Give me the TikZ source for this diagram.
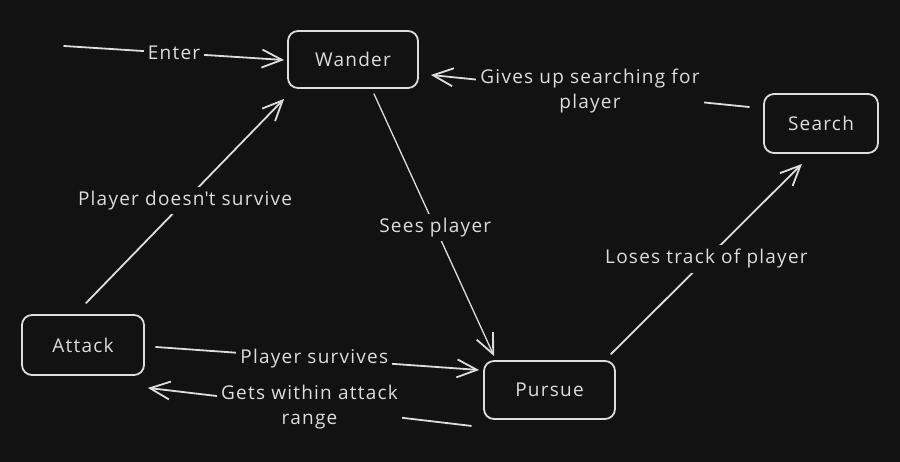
\documentclass[tikz,border=0pt]{standalone}
\usepackage{fontspec}
\setmainfont{Open Sans}[LetterSpace=6.5]
\usetikzlibrary{arrows.meta,calc}
\definecolor{bg}{HTML}{121212}
\definecolor{ink}{HTML}{DDDDDD}
\begin{document}
\begin{tikzpicture}[x=1pt,y=-1pt,
  state/.style={draw=ink, line width=1.8pt, rounded corners=10pt, text=ink,
    font=\fontsize{19}{22}\selectfont, inner sep=0pt},
  lbl/.style={fill=bg, text=ink, font=\fontsize{19}{25}\selectfont, inner sep=4pt, align=center},
  conn/.style={draw=ink, line width=1.8pt, line cap=round,
    -{Straight Barb[length=20pt,width=18pt,line width=1.8pt]}}]
\fill[bg] (0,0) rectangle (900,462);
\useasboundingbox (0,0) rectangle (900,462);

\node[state, minimum width=130pt, minimum height=57pt] (wander) at (353,59.5) {Wander};
\node[state, minimum width=114pt, minimum height=59pt] (search) at (821,123.5) {Search};
\node[state, minimum width=122pt, minimum height=60pt] (attack) at (83,345) {Attack};
\node[state, minimum width=131pt, minimum height=58pt] (pursue) at (549.5,390) {Pursue};

\coordinate (enterstart) at (64,46);

\draw[conn] (enterstart) -- ($(wander.west)+(-3,0.5)$) node[lbl, pos=0.5] {Enter};
\draw[conn, line width=1.3pt] ($(wander.south)+(21,5)$) -- ($(pursue.north west)+(11,-4)$) node[lbl, pos=0.51] {Sees player};
\draw[conn] ($(search.west)+(-14,-16.5)$) -- ($(wander.east)+(12,15.5)$) node[lbl, pos=0.5] {Gives up searching for\\player};
\draw[conn] ($(pursue.north east)+(-5,-6)$) -- ($(search.south)+(-19,10)$) node[lbl, pos=0.5] {Loses track of player};
\draw[conn] ($(attack.north)+(3,-11)$) -- ($(wander.south west)+(-3,10)$) node[lbl, pos=0.5] {Player doesn\textquotesingle t survive};
\draw[conn] ($(attack.east)+(11,2)$) -- ($(pursue.west)+(-4,-20)$) node[lbl, pos=0.49] {Player survives};
\draw[conn] ($(pursue.south west)+(-12,6)$) -- ($(attack.south east)+(3,12)$) node[lbl, pos=0.5] {Gets within attack\\range};
\end{tikzpicture}
\end{document}
